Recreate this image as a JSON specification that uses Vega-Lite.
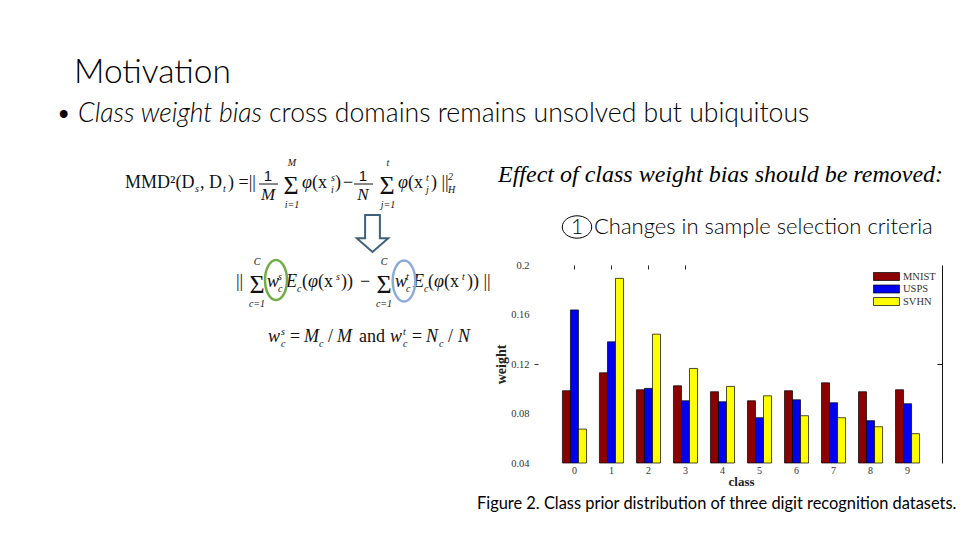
{
  "$schema": "https://vega.github.io/schema/vega-lite/v6.json",
  "width": 960,
  "height": 540,
  "autosize": {"type": "none"},
  "padding": 0,
  "background": "white",
  "config": {"view": {"stroke": null}, "axis": {"grid": false}},
  "datasets": {
    "bars": [
      {"cls": "0", "set": "MNIST", "weight": 0.0984}, {"cls": "0", "set": "USPS", "weight": 0.1637}, {"cls": "0", "set": "SVHN", "weight": 0.0674},
      {"cls": "1", "set": "MNIST", "weight": 0.1129}, {"cls": "1", "set": "USPS", "weight": 0.1379}, {"cls": "1", "set": "SVHN", "weight": 0.1892},
      {"cls": "2", "set": "MNIST", "weight": 0.0992}, {"cls": "2", "set": "USPS", "weight": 0.1003}, {"cls": "2", "set": "SVHN", "weight": 0.1441},
      {"cls": "3", "set": "MNIST", "weight": 0.1024}, {"cls": "3", "set": "USPS", "weight": 0.0903}, {"cls": "3", "set": "SVHN", "weight": 0.1164},
      {"cls": "4", "set": "MNIST", "weight": 0.0976}, {"cls": "4", "set": "USPS", "weight": 0.0895}, {"cls": "4", "set": "SVHN", "weight": 0.1019},
      {"cls": "5", "set": "MNIST", "weight": 0.0903}, {"cls": "5", "set": "USPS", "weight": 0.0766}, {"cls": "5", "set": "SVHN", "weight": 0.0943},
      {"cls": "6", "set": "MNIST", "weight": 0.0984}, {"cls": "6", "set": "USPS", "weight": 0.0911}, {"cls": "6", "set": "SVHN", "weight": 0.0782},
      {"cls": "7", "set": "MNIST", "weight": 0.1048}, {"cls": "7", "set": "USPS", "weight": 0.0887}, {"cls": "7", "set": "SVHN", "weight": 0.0766},
      {"cls": "8", "set": "MNIST", "weight": 0.0976}, {"cls": "8", "set": "USPS", "weight": 0.0742}, {"cls": "8", "set": "SVHN", "weight": 0.0693},
      {"cls": "9", "set": "MNIST", "weight": 0.0992}, {"cls": "9", "set": "USPS", "weight": 0.0879}, {"cls": "9", "set": "SVHN", "weight": 0.0637}
    ],
    "title": [{"t": "Motivation", "x": 74, "y": 83}],
    "bulletItalic": [{"t": "Class weight bias", "x": 78, "y": 122}],
    "bulletRoman": [{"t": "•", "x": 56, "y": 122}, {"t": "cross domains remains unsolved but ubiquitous", "x": 269, "y": 122}],
    "effect": [{"t": "Effect of class weight bias should be removed:", "x": 498, "y": 182}],
    "circledOne": [{"t": "1", "x": 577, "y": 234}],
    "circleRing": [{"x": 577, "y": 227}],
    "changes": [{"t": "Changes in sample selection criteria", "x": 594, "y": 234}],
    "caption": [{"t": "Figure 2. Class prior distribution of three digit recognition datasets.", "x": 477, "y": 509}],
    "fRoman": [
      {"t": "MMD²(D", "x": 125, "y": 188}, {"t": ", D", "x": 200, "y": 188}, {"t": ") =||", "x": 228, "y": 188},
      {"t": "(x", "x": 312, "y": 188}, {"t": ")", "x": 335, "y": 188}, {"t": "−", "x": 343, "y": 188},
      {"t": "(x", "x": 408, "y": 188}, {"t": ") ||", "x": 431, "y": 188},
      {"t": "||", "x": 236, "y": 287}, {"t": "(", "x": 302, "y": 287}, {"t": "(x", "x": 318, "y": 287}, {"t": "))", "x": 341, "y": 287}, {"t": "−", "x": 360, "y": 287},
      {"t": "(", "x": 428, "y": 287}, {"t": "(x", "x": 444, "y": 287}, {"t": ")) ||", "x": 467, "y": 287},
      {"t": "=", "x": 290, "y": 342}, {"t": "/", "x": 328, "y": 342}, {"t": "and", "x": 359, "y": 342}, {"t": "=", "x": 412, "y": 342}, {"t": "/", "x": 448, "y": 342}
    ],
    "fItalic": [
      {"t": "φ", "x": 302, "y": 188}, {"t": "φ", "x": 398, "y": 188},
      {"t": "w", "x": 267, "y": 287}, {"t": "E", "x": 286, "y": 287}, {"t": "φ", "x": 308, "y": 287},
      {"t": "w", "x": 395, "y": 287}, {"t": "E", "x": 413, "y": 287}, {"t": "φ", "x": 434, "y": 287},
      {"t": "w", "x": 268, "y": 342}, {"t": "M", "x": 304, "y": 342}, {"t": "M", "x": 337, "y": 342},
      {"t": "w", "x": 390, "y": 342}, {"t": "N", "x": 426, "y": 342}, {"t": "N", "x": 458, "y": 342}
    ],
    "fracNum": [{"t": "1", "x": 268, "y": 181}, {"t": "1", "x": 363, "y": 181}],
    "fracDen": [{"t": "M", "x": 268, "y": 200}, {"t": "N", "x": 363, "y": 200}],
    "fracBar": [{"x": 259, "x2": 278, "y": 184}, {"x": 354, "x2": 373, "y": 184}],
    "scripts": [
      {"t": "s", "x": 195, "y": 192}, {"t": "t", "x": 223, "y": 192},
      {"t": "s", "x": 331, "y": 181}, {"t": "i", "x": 331, "y": 193},
      {"t": "t", "x": 426, "y": 181}, {"t": "j", "x": 426, "y": 193},
      {"t": "2", "x": 448, "y": 180}, {"t": "H", "x": 448, "y": 193},
      {"t": "s", "x": 278, "y": 280}, {"t": "c", "x": 278, "y": 292}, {"t": "c", "x": 297, "y": 292}, {"t": "s", "x": 336, "y": 280},
      {"t": "t", "x": 406, "y": 280}, {"t": "c", "x": 406, "y": 292}, {"t": "c", "x": 424, "y": 292}, {"t": "t", "x": 462, "y": 280},
      {"t": "s", "x": 281, "y": 335}, {"t": "c", "x": 281, "y": 347}, {"t": "c", "x": 319, "y": 347},
      {"t": "t", "x": 403, "y": 335}, {"t": "c", "x": 403, "y": 347}, {"t": "c", "x": 439, "y": 347}
    ],
    "limits": [
      {"t": "M", "x": 292, "y": 166}, {"t": "i=1", "x": 292, "y": 208},
      {"t": "t", "x": 388, "y": 166}, {"t": "j=1", "x": 388, "y": 208},
      {"t": "C", "x": 257, "y": 265}, {"t": "c=1", "x": 257, "y": 307},
      {"t": "C", "x": 384, "y": 265}, {"t": "c=1", "x": 384, "y": 307}
    ],
    "sigmas": [
      {"t": "Σ", "x": 291, "y": 194}, {"t": "Σ", "x": 387, "y": 194},
      {"t": "Σ", "x": 257, "y": 293}, {"t": "Σ", "x": 384, "y": 293}
    ],
    "arrow": [{"x": 372.5, "y": 233.5}],
    "greenEllipse": [{"x": 276, "y": 280}],
    "blueEllipse": [{"x": 404, "y": 281}]
  },
  "layer": [
    {
      "encoding": {
        "x": {"field": "x", "type": "quantitative", "scale": {"domain": [0, 960], "nice": false, "zero": false}, "axis": null},
        "y": {"field": "y", "type": "quantitative", "scale": {"domain": [0, 540], "reverse": true, "nice": false, "zero": false}, "axis": null}
      },
      "layer": [
        {"data": {"name": "title"}, "mark": {"type": "text", "font": "Lato", "fontWeight": 300, "fontSize": 33.5, "align": "left", "baseline": "alphabetic", "color": "#000"}, "encoding": {"text": {"field": "t"}}},
        {"data": {"name": "bulletItalic"}, "mark": {"type": "text", "font": "Lato", "fontWeight": 300, "fontStyle": "italic", "fontSize": 26.6, "align": "left", "baseline": "alphabetic", "color": "#000"}, "encoding": {"text": {"field": "t"}}},
        {"data": {"name": "bulletRoman"}, "mark": {"type": "text", "font": "Lato", "fontWeight": 300, "fontSize": 26.6, "align": "left", "baseline": "alphabetic", "color": "#000"}, "encoding": {"text": {"field": "t"}}},
        {"data": {"name": "effect"}, "mark": {"type": "text", "font": "Liberation Serif", "fontStyle": "italic", "fontSize": 24, "align": "left", "baseline": "alphabetic", "color": "#000"}, "encoding": {"text": {"field": "t"}}},
        {"data": {"name": "circleRing"}, "mark": {"type": "point", "shape": "M -1 0 A 1 0.76 0 1 0 1 0 A 1 0.76 0 1 0 -1 0 Z", "size": 870, "filled": false, "stroke": "#000", "strokeWidth": 1, "opacity": 1}},
        {"data": {"name": "circledOne"}, "mark": {"type": "text", "font": "Lato", "fontWeight": 300, "fontSize": 21, "align": "center", "baseline": "alphabetic", "color": "#000"}, "encoding": {"text": {"field": "t"}}},
        {"data": {"name": "changes"}, "mark": {"type": "text", "font": "Lato", "fontWeight": 300, "fontSize": 22, "align": "left", "baseline": "alphabetic", "color": "#000"}, "encoding": {"text": {"field": "t"}}},
        {"data": {"name": "caption"}, "mark": {"type": "text", "font": "Lato", "fontSize": 16.4, "align": "left", "baseline": "alphabetic", "color": "#000"}, "encoding": {"text": {"field": "t"}}},
        {"data": {"name": "fRoman"}, "mark": {"type": "text", "font": "Liberation Serif", "fontSize": 18, "align": "left", "baseline": "alphabetic", "color": "#111"}, "encoding": {"text": {"field": "t"}}},
        {"data": {"name": "fItalic"}, "mark": {"type": "text", "font": "Liberation Serif", "fontStyle": "italic", "fontSize": 18, "align": "left", "baseline": "alphabetic", "color": "#111"}, "encoding": {"text": {"field": "t"}}},
        {"data": {"name": "fracNum"}, "mark": {"type": "text", "font": "Liberation Sans", "fontSize": 15, "align": "center", "baseline": "alphabetic", "color": "#111"}, "encoding": {"text": {"field": "t"}}},
        {"data": {"name": "fracDen"}, "mark": {"type": "text", "font": "Liberation Serif", "fontStyle": "italic", "fontSize": 17, "align": "center", "baseline": "alphabetic", "color": "#111"}, "encoding": {"text": {"field": "t"}}},
        {"data": {"name": "fracBar"}, "mark": {"type": "rule", "color": "#111", "strokeWidth": 1}, "encoding": {"x2": {"field": "x2"}}},
        {"data": {"name": "scripts"}, "mark": {"type": "text", "font": "Liberation Serif", "fontStyle": "italic", "fontSize": 10, "align": "left", "baseline": "alphabetic", "color": "#111"}, "encoding": {"text": {"field": "t"}}},
        {"data": {"name": "limits"}, "mark": {"type": "text", "font": "Liberation Serif", "fontStyle": "italic", "fontSize": 10, "align": "center", "baseline": "alphabetic", "color": "#111"}, "encoding": {"text": {"field": "t"}}},
        {"data": {"name": "sigmas"}, "mark": {"type": "text", "font": "Liberation Serif", "fontSize": 26, "align": "center", "baseline": "alphabetic", "color": "#111"}, "encoding": {"text": {"field": "t"}}},
        {"data": {"name": "arrow"}, "mark": {"type": "point", "shape": "M -0.4 -1 L 0.4 -1 L 0.4 0.25 L 0.85 0.25 L 0 1 L -0.85 0.25 L -0.4 0.25 Z", "size": 1369, "filled": false, "stroke": "#41607a", "strokeWidth": 2, "opacity": 1}},
        {"data": {"name": "greenEllipse"}, "mark": {"type": "point", "shape": "M -0.55 0 A 0.55 1 0 1 0 0.55 0 A 0.55 1 0 1 0 -0.55 0 Z", "size": 1600, "filled": false, "stroke": "#70ad47", "strokeWidth": 2.5, "opacity": 1}},
        {"data": {"name": "blueEllipse"}, "mark": {"type": "point", "shape": "M -0.55 0 A 0.55 1 0 1 0 0.55 0 A 0.55 1 0 1 0 -0.55 0 Z", "size": 1681, "filled": false, "stroke": "#8eaadb", "strokeWidth": 2.5, "opacity": 1}}
      ]
    },
    {
      "data": {"name": "bars"},
      "layer": [
        {
          "mark": {"type": "bar", "stroke": "black", "strokeWidth": 0.7},
          "encoding": {
            "x": {
              "field": "cls", "type": "nominal",
              "scale": {"range": [538, 944], "paddingInner": 0.35, "paddingOuter": 0.66},
              "axis": {"orient": "bottom", "offset": -77, "domain": false, "ticks": false, "labelAngle": 0, "labelFont": "Liberation Serif", "labelFontSize": 10, "labelColor": "#333", "labelPadding": 2, "title": "class", "titleFont": "Liberation Serif", "titleFontWeight": "bold", "titleFontSize": 13, "titleColor": "#222", "titlePadding": 0}
            },
            "xOffset": {"field": "set", "type": "nominal", "scale": {"domain": ["MNIST", "USPS", "SVHN"], "paddingInner": 0, "paddingOuter": 0}},
            "y": {
              "field": "weight", "type": "quantitative",
              "scale": {"domain": [0.04, 0.2], "range": [463, 265], "nice": false, "zero": false},
              "axis": {"orient": "left", "offset": -538, "values": [0.04, 0.08, 0.12, 0.16, 0.2], "format": ".2~f", "domain": false, "ticks": false, "labelFont": "Liberation Serif", "labelFontSize": 10.5, "labelColor": "#333", "labelPadding": 9, "title": "weight", "titleFont": "Liberation Serif", "titleFontWeight": "bold", "titleFontSize": 14, "titleColor": "#222", "titlePadding": 2}
            },
            "y2": {"datum": 0.04},
            "color": {
              "field": "set", "type": "nominal",
              "scale": {"domain": ["MNIST", "USPS", "SVHN"], "range": ["#8b0000", "#0000f0", "#ffff00"]},
              "legend": {"orient": "none", "legendX": 881, "legendY": 271, "title": null, "padding": 0, "symbolType": "M -2.6 -0.8 L 2.6 -0.8 L 2.6 0.8 L -2.6 0.8 Z", "symbolSize": 100, "symbolStrokeColor": "black", "symbolStrokeWidth": 0.7, "symbolOpacity": 1, "labelFont": "Liberation Serif", "labelFontSize": 10.5, "labelColor": "#333", "labelOffset": 11, "rowPadding": 1.5, "symbolOffset": 0}
            }
          }
        },
        {
          "mark": {"type": "point", "opacity": 0},
          "encoding": {
            "x": {"field": "cls", "type": "nominal", "axis": {"orient": "top", "offset": -265, "values": ["0", "1", "2", "3"], "labels": false, "domain": false, "tickSize": -4, "tickColor": "#222", "title": null}},
            "y": {"field": "weight", "type": "quantitative", "axis": {"orient": "right", "offset": -18, "values": [0.12], "labels": false, "domain": true, "domainColor": "#111", "tickColor": "#111", "tickSize": -5, "title": null}}
          }
        },
        {
          "mark": {"type": "point", "opacity": 0},
          "encoding": {
            "y": {"field": "weight", "type": "quantitative", "axis": {"orient": "left", "offset": -538, "values": [0.12], "labels": false, "domain": false, "tickColor": "#333", "tickSize": 4, "title": null}}
          }
        }
      ],
      "resolve": {"axis": {"x": "independent", "y": "independent"}}
    }
  ],
  "resolve": {"scale": {"x": "independent", "y": "independent"}}
}
